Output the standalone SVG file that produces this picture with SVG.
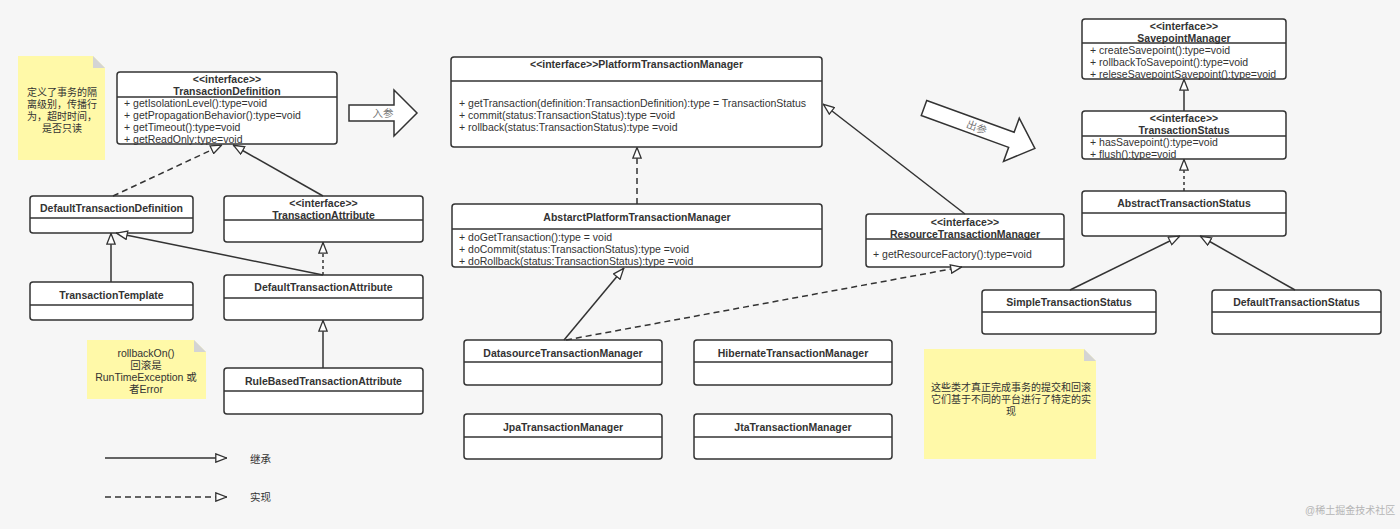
<svg xmlns="http://www.w3.org/2000/svg" width="1400" height="529" viewBox="0 0 1400 529">
<style>
text{font-family:"Liberation Sans","Noto Sans CJK SC",sans-serif;font-size:10.5px;fill:#333}
.b{font-weight:bold}
.m{text-anchor:middle}
.box{fill:#fff;stroke:#333;stroke-width:1.5}
.div{stroke:#333;stroke-width:1.5}
.note{fill:#fff9a8}
.fold{fill:#d4d4d4}
.c{fill:none;stroke:#333;stroke-width:1.5}
.d{stroke-dasharray:6 4}
.dt{stroke-dasharray:3 3}
.big{fill:#fff;stroke:#333;stroke-width:1.5}
.g{fill:#777}
.cn{font-size:10px}
</style>
<defs>
<marker id="tri" viewBox="0 0 12 10" refX="12" refY="5" markerWidth="12" markerHeight="10" orient="auto" markerUnits="userSpaceOnUse">
<path d="M0.8,0.8 L11.5,5 L0.8,9.2 Z" fill="#fff" stroke="#333" stroke-width="1.3"/>
</marker>
</defs>
<rect width="1400" height="529" fill="#f6f6f6"/>

<g id="note1">
<path class="note" d="M18,56 H93 L105,68 V160 H18 Z"/>
<path class="fold" d="M93,56 L105,68 H93 Z"/>
<text class="m cn" x="62" y="96">定义了事务的隔</text>
<text class="m cn" x="62" y="108">离级别，传播行</text>
<text class="m cn" x="62" y="120">为，超时时间，</text>
<text class="m cn" x="62" y="132">是否只读</text>
</g>

<g id="TransactionDefinition">
<rect class="box" x="117" y="72" width="220" height="72" rx="3"/>
<line class="div" x1="117" y1="97" x2="337" y2="97"/>
<text class="m b" x="227" y="83">&lt;&lt;interface&gt;&gt;</text>
<text class="m b" x="227" y="95">TransactionDefinition</text>
<text x="124" y="107">+ getIsolationLevel():type=void</text>
<text x="124" y="119">+ getPropagationBehavior():type=void</text>
<text x="124" y="131">+ getTimeout():type=void</text>
<text x="124" y="143">+ getReadOnly:type=void</text>
</g>

<g id="arrowIn">
<polygon class="big" points="349,105 394,105 394,90 417,113 394,136 394,121 349,121"/>
<text class="m g" x="383" y="117">入参</text>
</g>

<g id="DefaultTransactionDefinition">
<rect class="box" x="30" y="196" width="163" height="37" rx="3"/>
<line class="div" x1="30" y1="218" x2="193" y2="218"/>
<text class="m b" x="111.5" y="212">DefaultTransactionDefinition</text>
</g>

<g id="TransactionAttribute">
<rect class="box" x="224" y="196" width="199" height="46" rx="3"/>
<line class="div" x1="224" y1="220" x2="423" y2="220"/>
<text class="m b" x="323.5" y="207">&lt;&lt;interface&gt;&gt;</text>
<text class="m b" x="323.5" y="219">TransactionAttribute</text>
</g>

<g id="TransactionTemplate">
<rect class="box" x="30" y="282" width="163" height="38" rx="3"/>
<line class="div" x1="30" y1="305" x2="193" y2="305"/>
<text class="m b" x="111.5" y="299">TransactionTemplate</text>
</g>

<g id="DefaultTransactionAttribute">
<rect class="box" x="224" y="275" width="199" height="45" rx="3"/>
<line class="div" x1="224" y1="298" x2="423" y2="298"/>
<text class="m b" x="323.5" y="291">DefaultTransactionAttribute</text>
</g>

<g id="RuleBasedTransactionAttribute">
<rect class="box" x="224" y="368" width="199" height="46" rx="3"/>
<line class="div" x1="224" y1="391" x2="423" y2="391"/>
<text class="m b" x="323.5" y="385">RuleBasedTransactionAttribute</text>
</g>

<g id="note2">
<path class="note" d="M87,340 H194 L206,352 V399 H87 Z"/>
<path class="fold" d="M194,340 L206,352 H194 Z"/>
<text class="m" x="146" y="357">rollbackOn()</text>
<text class="m" x="146" y="369">回滚是</text>
<text class="m" x="146" y="381">RunTimeException 或</text>
<text class="m" x="146" y="393">者Error</text>
</g>

<g id="PlatformTransactionManager">
<rect class="box" x="451" y="57" width="371" height="90" rx="3"/>
<line class="div" x1="451" y1="81" x2="822" y2="81"/>
<text class="m b" x="636.5" y="68">&lt;&lt;interface&gt;&gt;PlatformTransactionManager</text>
<text x="459" y="107">+ getTransaction(definition:TransactionDefinition):type = TransactionStatus</text>
<text x="459" y="119">+ commit(status:TransactionStatus):type =void</text>
<text x="459" y="131">+ rollback(status:TransactionStatus):type =void</text>
</g>

<g id="AbstarctPlatformTransactionManager">
<rect class="box" x="452" y="204" width="370" height="63" rx="3"/>
<line class="div" x1="452" y1="229" x2="822" y2="229"/>
<text class="m b" x="637" y="221">AbstarctPlatformTransactionManager</text>
<text x="459" y="241">+ doGetTransaction():type = void</text>
<text x="459" y="253">+ doCommit(status:TransactionStatus):type =void</text>
<text x="459" y="265">+ doRollback(status:TransactionStatus):type =void</text>
</g>

<g id="DatasourceTransactionManager">
<rect class="box" x="464" y="340" width="198" height="45" rx="3"/>
<line class="div" x1="464" y1="362" x2="662" y2="362"/>
<text class="m b" x="563" y="357">DatasourceTransactionManager</text>
</g>

<g id="HibernateTransactionManager">
<rect class="box" x="694" y="340" width="198" height="45" rx="3"/>
<line class="div" x1="694" y1="362" x2="892" y2="362"/>
<text class="m b" x="793" y="357">HibernateTransactionManager</text>
</g>

<g id="JpaTransactionManager">
<rect class="box" x="464" y="414" width="198" height="45" rx="3"/>
<line class="div" x1="464" y1="437" x2="662" y2="437"/>
<text class="m b" x="563" y="431">JpaTransactionManager</text>
</g>

<g id="JtaTransactionManager">
<rect class="box" x="694" y="414" width="198" height="45" rx="3"/>
<line class="div" x1="694" y1="437" x2="892" y2="437"/>
<text class="m b" x="793" y="431">JtaTransactionManager</text>
</g>

<g id="ResourceTransactionManager">
<rect class="box" x="866" y="214" width="198" height="53" rx="3"/>
<line class="div" x1="866" y1="239" x2="1064" y2="239"/>
<text class="m b" x="965" y="226">&lt;&lt;interface&gt;&gt;</text>
<text class="m b" x="965" y="238">ResourceTransactionManager</text>
<text x="873" y="258">+ getResourceFactory():type=void</text>
</g>

<g id="arrowOut" transform="translate(924,108) rotate(20)">
<polygon class="big" points="0,-8 93,-8 93,-23 118,0 93,23 93,8 0,8"/>
<text class="m g" x="56" y="4">出参</text>
</g>

<g id="SavepointManager">
<rect class="box" x="1082" y="19" width="204" height="60" rx="3"/>
<line class="div" x1="1082" y1="43" x2="1286" y2="43"/>
<text class="m b" x="1184" y="30">&lt;&lt;interface&gt;&gt;</text>
<text class="m b" x="1184" y="42">SavepointManager</text>
<text x="1090" y="54">+ createSavepoint():type=void</text>
<text x="1090" y="66">+ rollbackToSavepoint():type=void</text>
<text x="1090" y="78">+ releseSavepointSavepoint():type=void</text>
</g>

<g id="TransactionStatus">
<rect class="box" x="1082" y="111" width="204" height="48" rx="3"/>
<line class="div" x1="1082" y1="136" x2="1286" y2="136"/>
<text class="m b" x="1184" y="122">&lt;&lt;interface&gt;&gt;</text>
<text class="m b" x="1184" y="134">TransactionStatus</text>
<text x="1090" y="146">+ hasSavepoint():type=void</text>
<text x="1090" y="158">+ flush():type=void</text>
</g>

<g id="AbstractTransactionStatus">
<rect class="box" x="1082" y="191" width="204" height="45" rx="3"/>
<line class="div" x1="1082" y1="213" x2="1286" y2="213"/>
<text class="m b" x="1184" y="207">AbstractTransactionStatus</text>
</g>

<g id="SimpleTransactionStatus">
<rect class="box" x="982" y="290" width="174" height="44" rx="3"/>
<line class="div" x1="982" y1="312" x2="1156" y2="312"/>
<text class="m b" x="1069" y="306">SimpleTransactionStatus</text>
</g>

<g id="DefaultTransactionStatus">
<rect class="box" x="1212" y="290" width="169" height="44" rx="3"/>
<line class="div" x1="1212" y1="312" x2="1381" y2="312"/>
<text class="m b" x="1296.5" y="306">DefaultTransactionStatus</text>
</g>

<g id="note3">
<path class="note" d="M924,349 H1084 L1096,361 V459 H924 Z"/>
<path class="fold" d="M1084,349 L1096,361 H1084 Z"/>
<text class="m cn" x="1011" y="391">这些类才真正完成事务的提交和回滚</text>
<text class="m cn" x="1011" y="403">它们基于不同的平台进行了特定的实</text>
<text class="m cn" x="1011" y="415">现</text>
</g>

<g id="connectors">
<path class="c d" d="M113,196 L222,145" marker-end="url(#tri)"/>
<path class="c" d="M323,196 L233,145" marker-end="url(#tri)"/>
<path class="c" d="M111,282 L111,233" marker-end="url(#tri)"/>
<path class="c" d="M323,275 L116,233" marker-end="url(#tri)"/>
<path class="c dt" d="M323,275 L323,242" marker-end="url(#tri)"/>
<path class="c" d="M323,368 L323,320" marker-end="url(#tri)"/>
<path class="c d" d="M637,204 L637,147" marker-end="url(#tri)"/>
<path class="c" d="M564,340 L624,268" marker-end="url(#tri)"/>
<path class="c d" d="M566,340 L962,267" marker-end="url(#tri)"/>
<path class="c" d="M965,214 L823,104" marker-end="url(#tri)"/>
<path class="c" d="M1184,111 L1184,79" marker-end="url(#tri)"/>
<path class="c dt" d="M1184,191 L1184,159" marker-end="url(#tri)"/>
<path class="c" d="M1070,290 L1180,236" marker-end="url(#tri)"/>
<path class="c" d="M1295,290 L1200,236" marker-end="url(#tri)"/>
</g>

<g id="legend">
<path class="c" d="M105,458 L227,458" marker-end="url(#tri)"/>
<text x="250" y="463">继承</text>
<path class="c d" d="M105,497 L227,497" marker-end="url(#tri)"/>
<text x="250" y="501">实现</text>
</g>

<text x="1305" y="514" style="font-size:10px;fill:#b5b5b5">@稀土掘金技术社区</text>
</svg>
